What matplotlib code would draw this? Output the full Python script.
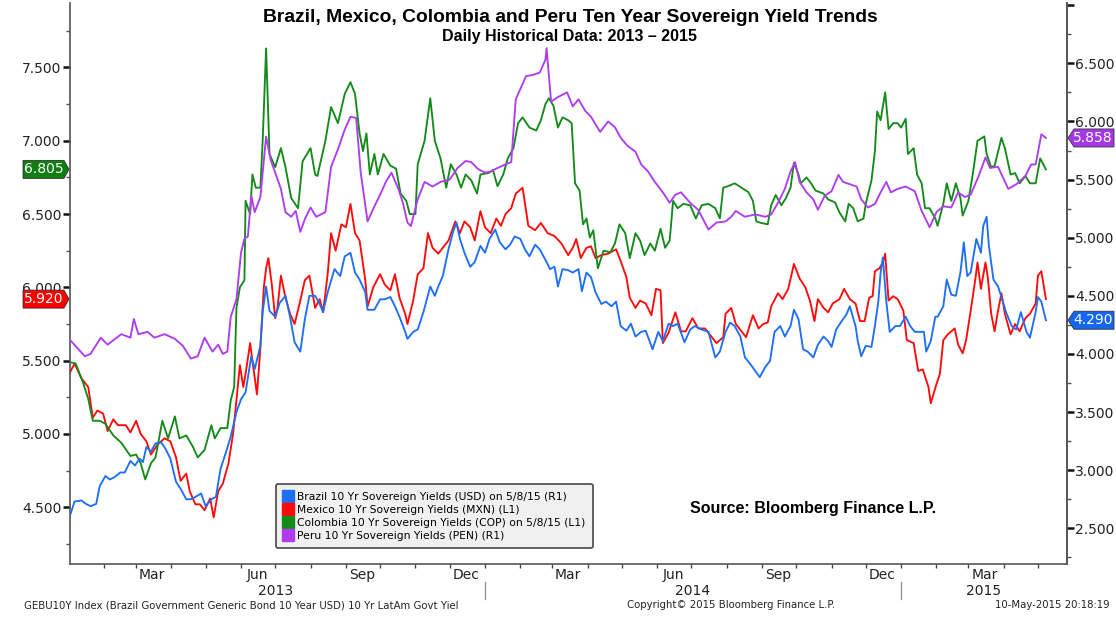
import pandas as pd
import matplotlib
matplotlib.use("Agg")
import matplotlib.pyplot as plt
import matplotlib.dates as mdates
import matplotlib.transforms as mtrans
from matplotlib.patches import Polygon
from matplotlib.lines import Line2D
from matplotlib.ticker import MultipleLocator, FuncFormatter

# days since 2013-01-01, yield (%)
start = pd.Timestamp("2013-01-01")

# Brazil 10Y USD (right axis)
brazil = [(1, 2.61), (5, 2.73), (11, 2.74), (15, 2.71), (19, 2.69), (24, 2.71), (27, 2.86), (32, 2.95),
          (36, 2.92), (40, 2.94), (45, 2.98), (49, 2.98), (54, 3.08), (58, 3.04), (62, 3.10), (65, 3.07),
          (68, 3.20), (72, 3.16), (76, 3.23), (81, 3.24), (85, 3.18), (89, 3.10), (94, 2.90), (98, 2.84),
          (103, 2.75), (107, 2.75), (111, 2.77), (116, 2.80), (120, 2.69), (125, 2.75), (129, 2.77),
          (133, 3.01), (138, 3.16), (142, 3.29), (147, 3.50), (151, 3.61), (155, 3.67), (160, 3.98),
          (163, 3.87), (168, 4.07), (170, 4.36), (173, 4.58), (176, 4.37), (181, 4.32), (185, 4.44),
          (190, 4.50), (194, 4.32), (198, 4.10), (203, 4.02), (207, 4.30), (211, 4.50), (216, 4.50),
          (219, 4.45), (223, 4.36), (227, 4.53), (233, 4.73), (238, 4.67), (242, 4.84), (247, 4.87),
          (251, 4.70), (255, 4.64), (260, 4.53), (262, 4.38), (268, 4.38), (273, 4.47), (277, 4.47),
          (282, 4.49), (286, 4.41), (290, 4.32), (295, 4.19), (297, 4.13), (302, 4.19), (306, 4.21),
          (311, 4.36), (317, 4.58), (321, 4.50), (324, 4.58), (328, 4.67), (333, 4.90), (337, 5.05),
          (340, 5.13), (343, 4.99), (347, 4.87), (352, 4.75), (356, 4.79), (361, 4.93), (365, 4.87),
          (369, 4.99), (374, 5.07), (378, 4.96), (383, 4.90), (387, 4.94), (391, 5.01), (396, 4.99),
          (400, 4.90), (404, 4.84), (409, 4.94), (413, 4.90), (418, 4.81), (422, 4.73), (426, 4.75),
          (429, 4.58), (433, 4.73), (438, 4.72), (442, 4.70), (447, 4.73), (450, 4.54), (454, 4.70),
          (458, 4.66), (462, 4.53), (467, 4.43), (471, 4.45), (476, 4.41), (480, 4.45), (484, 4.24),
          (489, 4.20), (493, 4.26), (497, 4.15), (502, 4.19), (506, 4.20), (512, 4.04), (517, 4.19),
          (521, 4.11), (526, 4.26), (530, 4.24), (534, 4.26), (540, 4.10), (545, 4.21), (549, 4.24),
          (555, 4.21), (561, 4.19), (567, 3.97), (571, 4.02), (576, 4.19), (580, 4.27), (584, 4.24),
          (589, 4.15), (593, 3.97), (598, 3.91), (603, 3.84), (606, 3.80), (611, 3.89), (615, 3.94),
          (619, 4.19), (624, 4.24), (628, 4.15), (633, 4.24), (636, 4.38), (640, 4.30), (644, 4.04),
          (648, 4.02), (653, 3.97), (657, 4.08), (662, 4.15), (666, 4.11), (669, 4.06), (673, 4.21),
          (677, 4.27), (682, 4.34), (685, 4.41), (690, 4.24), (692, 4.11), (695, 3.98), (699, 4.07),
          (704, 4.06), (707, 4.24), (710, 4.45), (712, 4.70), (714, 4.83), (717, 4.45), (720, 4.19),
          (725, 4.24), (729, 4.24), (734, 4.32), (738, 4.24), (742, 4.19), (747, 4.19), (750, 4.19),
          (752, 4.02), (756, 4.11), (760, 4.32), (762, 4.32), (767, 4.41), (770, 4.64), (774, 4.51),
          (778, 4.50), (782, 4.70), (785, 4.96), (788, 4.67), (791, 4.70), (796, 4.99), (800, 4.87),
          (802, 5.10), (805, 5.18), (807, 4.93), (811, 4.64), (815, 4.58), (818, 4.49), (822, 4.36),
          (827, 4.24), (831, 4.21), (835, 4.36), (840, 4.19), (843, 4.14), (848, 4.36), (850, 4.49),
          (853, 4.45), (857, 4.29)]

# Mexico 10Y MXN (left axis)
mexico = [(1, 5.42), (5, 5.48), (11, 5.38), (17, 5.32), (21, 5.11), (25, 5.16), (30, 5.14), (34, 5.02),
          (39, 5.10), (43, 5.06), (50, 5.06), (54, 5.01), (59, 5.09), (63, 5.00), (68, 4.95), (72, 4.86),
          (78, 4.93), (84, 4.97), (89, 4.95), (94, 4.84), (98, 4.68), (103, 4.73), (106, 4.61),
          (111, 4.52), (115, 4.52), (119, 4.48), (124, 4.56), (127, 4.43), (131, 4.61), (135, 4.66),
          (140, 4.80), (144, 5.00), (147, 5.23), (150, 5.47), (153, 5.32), (155, 5.41), (159, 5.62),
          (161, 5.50), (165, 5.27), (168, 5.59), (171, 6.00), (173, 6.13), (175, 6.20), (178, 6.02),
          (181, 5.79), (183, 5.86), (186, 6.08), (190, 5.93), (194, 5.82), (198, 5.75), (203, 5.91),
          (207, 6.05), (211, 6.08), (216, 5.86), (220, 5.92), (223, 5.83), (227, 6.09), (230, 6.37),
          (234, 6.25), (239, 6.43), (243, 6.41), (247, 6.57), (251, 6.37), (255, 6.32), (260, 6.05),
          (262, 5.87), (267, 6.00), (273, 6.09), (277, 6.02), (282, 5.98), (286, 6.09), (290, 5.93),
          (295, 5.82), (297, 5.75), (302, 5.91), (306, 6.09), (311, 6.13), (315, 6.37), (319, 6.27),
          (324, 6.23), (328, 6.27), (333, 6.32), (339, 6.45), (343, 6.37), (347, 6.45), (352, 6.41),
          (356, 6.32), (361, 6.52), (365, 6.41), (370, 6.37), (375, 6.47), (379, 6.42), (383, 6.50),
          (388, 6.54), (392, 6.64), (398, 6.68), (403, 6.42), (409, 6.39), (414, 6.44), (420, 6.37),
          (426, 6.35), (432, 6.30), (438, 6.22), (442, 6.27), (445, 6.33), (449, 6.20), (454, 6.27),
          (458, 6.28), (462, 6.20), (467, 6.22), (473, 6.23), (480, 6.26), (484, 6.18), (489, 6.07),
          (492, 5.93), (497, 5.86), (501, 5.91), (506, 5.89), (511, 5.81), (515, 5.99), (519, 5.98),
          (521, 5.62), (526, 5.69), (532, 5.83), (537, 5.70), (541, 5.70), (547, 5.79), (552, 5.72),
          (558, 5.72), (562, 5.68), (568, 5.62), (574, 5.66), (576, 5.82), (581, 5.86), (585, 5.75),
          (590, 5.70), (594, 5.66), (600, 5.81), (605, 5.72), (609, 5.75), (613, 5.76), (616, 5.87),
          (622, 5.96), (626, 5.92), (631, 5.99), (636, 6.16), (641, 6.06), (646, 6.00), (650, 5.91),
          (654, 5.77), (657, 5.92), (662, 5.86), (666, 5.83), (670, 5.89), (676, 5.92), (680, 5.99),
          (685, 5.92), (690, 5.89), (694, 5.77), (698, 5.77), (702, 5.93), (705, 5.94), (707, 6.11),
          (711, 6.13), (714, 6.17), (716, 6.23), (719, 5.91), (723, 5.94), (727, 5.92), (732, 5.84),
          (735, 5.64), (741, 5.62), (745, 5.43), (749, 5.44), (754, 5.32), (756, 5.21), (761, 5.34),
          (764, 5.41), (767, 5.64), (771, 5.68), (774, 5.70), (777, 5.72), (780, 5.61), (784, 5.55),
          (787, 5.64), (791, 5.84), (795, 6.05), (797, 6.17), (800, 5.99), (804, 6.17), (806, 6.07),
          (809, 5.82), (812, 5.70), (815, 5.84), (818, 5.96), (821, 5.82), (826, 5.68), (830, 5.75),
          (834, 5.70), (839, 5.79), (843, 5.82), (848, 5.89), (850, 6.08), (853, 6.11), (857, 5.92)]

# Colombia 10Y COP (left axis)
colombia = [(1, 5.49), (6, 5.48), (12, 5.36), (17, 5.24), (21, 5.09), (27, 5.09), (32, 5.07), (39, 4.99),
            (46, 4.94), (54, 4.85), (59, 4.86), (63, 4.80), (67, 4.69), (72, 4.80), (76, 4.84),
            (82, 5.09), (87, 4.97), (93, 5.12), (97, 4.97), (103, 4.99), (109, 4.91), (113, 4.84),
            (119, 4.89), (125, 5.06), (128, 4.97), (133, 5.04), (139, 5.04), (142, 5.23), (145, 5.32),
            (147, 5.86), (150, 6.00), (154, 6.05), (155, 6.59), (159, 6.50), (161, 6.77), (164, 6.68),
            (168, 6.68), (170, 7.00), (173, 7.63), (176, 6.91), (181, 6.82), (186, 6.95), (190, 6.82),
            (195, 6.61), (201, 6.54), (205, 6.86), (212, 6.95), (216, 6.77), (218, 6.76), (225, 7.00),
            (230, 7.23), (236, 7.12), (242, 7.32), (247, 7.40), (251, 7.32), (255, 7.05), (258, 6.93),
            (261, 7.05), (264, 6.77), (268, 6.91), (271, 6.77), (276, 6.91), (282, 6.83), (287, 6.81),
            (291, 6.64), (296, 6.59), (299, 6.50), (304, 6.50), (306, 6.84), (312, 7.00), (317, 7.29),
            (321, 7.00), (326, 6.88), (331, 6.68), (335, 6.84), (340, 6.77), (344, 6.68), (348, 6.77),
            (353, 6.73), (358, 6.64), (361, 6.77), (368, 6.78), (372, 6.80), (376, 6.69), (381, 6.77),
            (385, 6.88), (390, 6.95), (394, 7.12), (398, 7.16), (404, 7.09), (410, 7.07), (414, 7.14),
            (418, 7.25), (421, 7.29), (425, 7.24), (429, 7.09), (433, 7.16), (438, 7.14), (441, 7.12),
            (444, 6.71), (448, 6.66), (451, 6.43), (454, 6.47), (457, 6.34), (460, 6.39), (464, 6.13),
            (469, 6.25), (475, 6.24), (479, 6.30), (483, 6.43), (488, 6.37), (492, 6.20), (497, 6.37),
            (501, 6.32), (505, 6.22), (510, 6.30), (514, 6.25), (519, 6.40), (523, 6.27), (527, 6.32),
            (530, 6.59), (534, 6.54), (539, 6.57), (545, 6.56), (550, 6.47), (555, 6.56), (561, 6.57),
            (567, 6.54), (571, 6.47), (574, 6.68), (578, 6.69), (584, 6.71), (590, 6.68), (596, 6.65),
            (600, 6.59), (603, 6.45), (607, 6.44), (613, 6.43), (616, 6.56), (620, 6.63), (625, 6.56),
            (629, 6.61), (633, 6.68), (636, 6.85), (640, 6.77), (642, 6.71), (647, 6.75), (651, 6.71),
            (655, 6.66), (662, 6.64), (666, 6.60), (672, 6.58), (676, 6.51), (681, 6.45), (684, 6.57),
            (688, 6.54), (692, 6.45), (697, 6.47), (699, 6.57), (704, 6.73), (707, 6.93), (709, 7.20),
            (712, 7.14), (716, 7.33), (719, 7.08), (723, 7.12), (727, 7.12), (730, 7.09), (734, 7.15),
            (736, 6.91), (741, 6.95), (744, 6.77), (748, 6.71), (751, 6.54), (755, 6.54), (760, 6.47),
            (762, 6.42), (767, 6.57), (770, 6.71), (774, 6.59), (778, 6.71), (782, 6.61), (784, 6.49),
            (789, 6.59), (793, 6.78), (797, 7.00), (803, 7.03), (805, 6.91), (809, 6.82), (812, 6.83),
            (818, 7.02), (821, 6.95), (826, 6.77), (830, 6.78), (834, 6.71), (839, 6.76), (843, 6.71),
            (848, 6.71), (852, 6.88), (857, 6.805)]

# Peru 10Y PEN (right axis)
peru = [(2, 4.11), (14, 3.98), (19, 4.00), (28, 4.14), (34, 4.08), (46, 4.17), (54, 4.14), (57, 4.30),
        (61, 4.17), (69, 4.19), (75, 4.14), (84, 4.17), (93, 4.13), (100, 4.07), (107, 3.96), (113, 3.98),
        (119, 4.14), (126, 4.02), (131, 4.08), (135, 4.00), (139, 4.02), (142, 4.32), (147, 4.47),
        (151, 4.87), (154, 4.99), (157, 5.01), (160, 5.36), (163, 5.22), (168, 5.35), (170, 5.56),
        (173, 5.87), (177, 5.67), (182, 5.53), (186, 5.42), (190, 5.22), (195, 5.18), (199, 5.23),
        (203, 5.05), (207, 5.16), (212, 5.26), (217, 5.18), (225, 5.22), (230, 5.61), (236, 5.76),
        (242, 5.93), (247, 6.04), (252, 6.03), (256, 5.56), (262, 5.14), (268, 5.27), (274, 5.39),
        (278, 5.48), (283, 5.56), (289, 5.42), (293, 5.30), (297, 5.13), (300, 5.10), (306, 5.33),
        (312, 5.48), (319, 5.44), (326, 5.48), (334, 5.50), (341, 5.60), (348, 5.66), (353, 5.65),
        (359, 5.59), (365, 5.56), (370, 5.57), (376, 5.60), (383, 5.63), (388, 5.65), (392, 6.19),
        (397, 6.30), (401, 6.39), (407, 6.40), (413, 6.42), (418, 6.53), (419, 6.63), (423, 6.17),
        (429, 6.21), (437, 6.25), (442, 6.13), (447, 6.19), (453, 6.09), (458, 6.04), (466, 5.91),
        (473, 6.00), (479, 5.95), (484, 5.86), (490, 5.79), (497, 5.74), (502, 5.63), (508, 5.57),
        (514, 5.48), (521, 5.39), (527, 5.30), (532, 5.37), (537, 5.39), (545, 5.30), (552, 5.24),
        (561, 5.07), (568, 5.13), (576, 5.14), (581, 5.18), (585, 5.23), (593, 5.18), (602, 5.20),
        (611, 5.18), (616, 5.20), (622, 5.30), (628, 5.42), (633, 5.57), (637, 5.65), (641, 5.48),
        (647, 5.39), (653, 5.33), (657, 5.24), (663, 5.36), (669, 5.40), (675, 5.54), (679, 5.48),
        (685, 5.46), (691, 5.44), (695, 5.33), (701, 5.26), (707, 5.29), (712, 5.39), (717, 5.48),
        (721, 5.39), (727, 5.42), (734, 5.44), (742, 5.40), (748, 5.23), (755, 5.09), (761, 5.22),
        (767, 5.27), (774, 5.26), (780, 5.39), (786, 5.35), (791, 5.37), (798, 5.53), (804, 5.69),
        (808, 5.60), (815, 5.61), (824, 5.42), (831, 5.46), (839, 5.53), (844, 5.63), (848, 5.63),
        (853, 5.89), (857, 5.858)]

names = ["Brazil 10 Yr Sovereign Yields (USD) on 5/8/15 (R1)",
         "Mexico 10 Yr Sovereign Yields (MXN) (L1)",
         "Colombia 10 Yr Sovereign Yields (COP) on 5/8/15 (L1)",
         "Peru 10 Yr Sovereign Yields (PEN) (R1)"]
colors = ["#1f6ff5", "#ff0a0a", "#148a1a", "#b03cf0"]
tag_colors = ["#1566f0", "#ff0000", "#0f7d12", "#a338e6"]


def to_xy(pts):
    days = [p[0] for p in pts]
    vals = [p[1] for p in pts]
    return start + pd.to_timedelta(days, unit="D"), vals


W, H = 1116, 622
fig = plt.figure(figsize=(W / 100, H / 100), dpi=100)
ax = fig.add_axes([70 / W, 1 - 564 / H, (1067 - 70) / W, (564 - 3) / H])
ax2 = ax.twinx()

for pts, c, a in [(mexico, colors[1], ax), (colombia, colors[2], ax),
                  (peru, colors[3], ax2), (brazil, colors[0], ax2)]:
    x, y = to_xy(pts)
    a.plot(x, y, color=c, lw=1.35, solid_joinstyle="round")

ax.set_xlim(pd.Timestamp("2013-01-02"), pd.Timestamp("2015-05-26 12:00"))
ax.set_ylim(4.113, 7.94)
ax2.set_ylim(2.193, 7.019)

# y axes
ax.yaxis.set_major_locator(MultipleLocator(0.5))
ax.yaxis.set_minor_locator(MultipleLocator(0.25))
ax.yaxis.set_major_formatter(FuncFormatter(lambda v, p: f"{v:.3f}"))
ax2.yaxis.set_major_locator(MultipleLocator(0.5))
ax2.yaxis.set_minor_locator(MultipleLocator(0.25))
ax2.yaxis.set_major_formatter(FuncFormatter(lambda v, p: "" if v > 6.9 else f"{v:.3f}"))
for a in (ax, ax2):
    a.tick_params(axis="y", which="major", direction="out", length=5, width=1.8,
                  color="#111111", labelsize=10, labelcolor="#222222", pad=1)
    a.tick_params(axis="y", which="minor", direction="out", length=3, width=1, color="#555555")

# x axis: month ticks, quarter labels mid-month
ax.xaxis.set_major_locator(mdates.MonthLocator())
ax.xaxis.set_major_formatter(plt.NullFormatter())
ax.xaxis.set_minor_locator(mdates.MonthLocator(bymonth=[3, 6, 9, 12], bymonthday=15))
ax.xaxis.set_minor_formatter(mdates.DateFormatter("%b"))
ax.tick_params(axis="x", which="major", direction="out", length=3, width=1, color="#444444")
ax.tick_params(axis="x", which="minor", length=0, labelsize=10, labelcolor="#222222", pad=3)

for a in (ax, ax2):
    a.spines["top"].set_visible(False)
    for s in ("left", "right", "bottom"):
        a.spines[s].set_color("#555555")
        a.spines[s].set_linewidth(1.2)
ax2.spines["left"].set_visible(False)
ax2.spines["bottom"].set_visible(False)

# year labels and separators
yt = mtrans.blended_transform_factory(ax.transData, fig.transFigure)
for lbl, d in [("2013", "2013-07-01"), ("2014", "2014-07-02"), ("2015", "2015-03-14")]:
    ax.text(pd.Timestamp(d), 1 - 591 / H, lbl, transform=yt, ha="center", va="center",
            fontsize=10, color="#222222")
for d in ["2014-01-01", "2015-01-01"]:
    xd = mdates.date2num(pd.Timestamp(d))
    fig.add_artist(Line2D([xd, xd], [1 - 582 / H, 1 - 599 / H], transform=yt,
                          color="#999999", lw=1))

# titles
fig.text(570 / W, 1 - 17 / H, "Brazil, Mexico, Colombia and Peru Ten Year Sovereign Yield Trends",
         ha="center", va="center", fontsize=13.9, fontweight="bold", family="Liberation Sans")
fig.text(570 / W, 1 - 37 / H, "Daily Historical Data: 2013 \u2013 2015",
         ha="center", va="center", fontsize=11.5, fontweight="bold", family="Liberation Sans")
fig.text(690 / W, 1 - 508 / H, "Source: Bloomberg Finance L.P.", ha="left", va="center",
         fontsize=11.5, fontweight="bold", family="Liberation Sans")

# footer
fig.text(24 / W, 1 - 605 / H,
         "GEBU10Y Index (Brazil Government Generic Bond 10 Year USD) 10 Yr LatAm Govt Yiel",
         ha="left", va="center", fontsize=7.33, color="#222222")
fig.text(627 / W, 1 - 605 / H, "Copyright\u00a9 2015 Bloomberg Finance L.P.",
         ha="left", va="center", fontsize=7.3, color="#222222")
fig.text(1110 / W, 1 - 605 / H, "10-May-2015 20:18:19",
         ha="right", va="center", fontsize=7.3, color="#222222")

# legend
handles = [Line2D([], [], marker="s", ls="none", ms=8, color=c) for c in colors]
leg = ax2.legend(handles, names, loc="upper left", bbox_to_anchor=(276 / W, 1 - 484 / H),
                 bbox_transform=fig.transFigure, fontsize=7.75, frameon=True, fancybox=True,
                 handlelength=0.9, handletextpad=0.35, labelspacing=0.28, borderpad=0.7,
                 borderaxespad=0)
leg.get_frame().set_facecolor("#f0f0f0")
leg.get_frame().set_edgecolor("#555555")
leg.get_frame().set_linewidth(1.3)
leg.get_frame().set_alpha(1)


# last value tags
def tag(a, val, color, side):
    yp = a.transData.transform((0, val))[1]
    h = 9
    if side == "left":
        px = [(23, yp - h), (64, yp - h), (69, yp), (64, yp + h), (23, yp + h)]
        tx = 44
    else:
        px = [(1068, yp), (1074, yp - h), (1114, yp - h), (1114, yp + h), (1074, yp + h)]
        tx = 1093
    pts = [(x / W, y / H) for x, y in px]
    fig.add_artist(Polygon(pts, closed=True, transform=fig.transFigure, facecolor=color,
                           edgecolor="#333333", lw=0.6))
    fig.text(tx / W, yp / H, f"{val:.3f}", ha="center", va="center", fontsize=10, color="white")


tag(ax, colombia[-1][1], tag_colors[2], "left")
tag(ax, mexico[-1][1], tag_colors[1], "left")
tag(ax2, peru[-1][1], tag_colors[3], "right")
tag(ax2, brazil[-1][1], tag_colors[0], "right")

fig.savefig("out.png", dpi=100)
